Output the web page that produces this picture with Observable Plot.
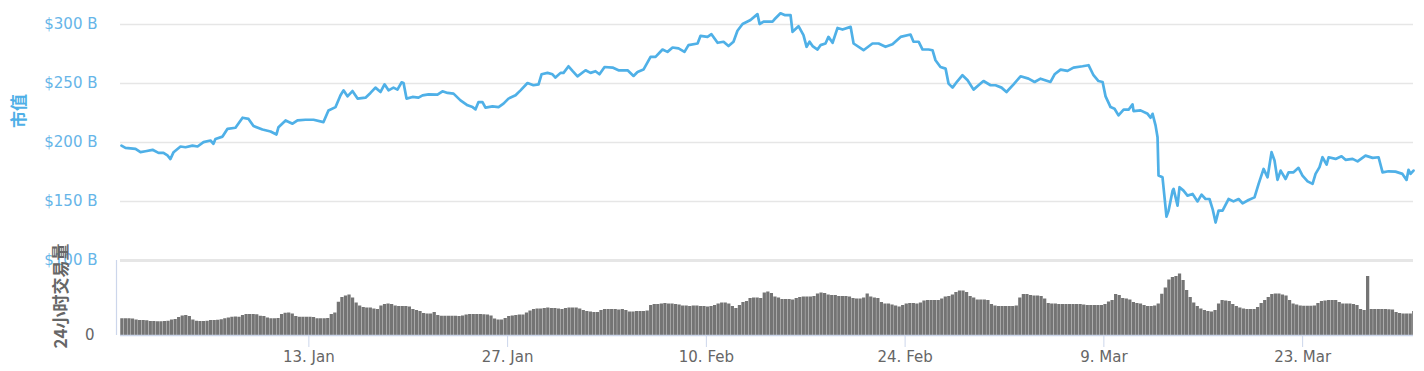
<!DOCTYPE html>
<html><head><meta charset="utf-8">
<script src="https://cdn.jsdelivr.net/npm/d3@7"></script>
<script src="https://cdn.jsdelivr.net/npm/@observablehq/plot@0.6"></script>
<style>
body{margin:0;background:#fff;}
#chart{position:relative;width:1424px;height:371px;overflow:hidden;font-family:"DejaVu Sans",sans-serif;}
.ytitle{position:absolute;font-family:"Noto Sans CJK SC",sans-serif;font-weight:bold;font-size:17px;white-space:nowrap;transform:translate(-50%,-50%) rotate(-90deg);line-height:1;}
</style></head>
<body><div id="chart"></div>
<script>
// Market cap (billions USD), time in days since 2020-01-01 00:00 UTC
const capDays = [-1.20,-0.92,-0.21,0.14,0.49,0.99,1.41,1.76,2.04,2.25,
2.47,2.96,3.31,3.80,4.16,4.58,5.07,5.28,5.42,5.92,
6.27,6.83,7.33,7.75,8.10,8.73,9.30,9.72,9.86,10.36,
10.85,11.20,11.76,12.33,13.03,13.38,13.88,14.23,14.44,14.72,
15.07,15.43,15.99,16.34,16.69,17.05,17.33,17.61,17.96,18.24,
18.53,18.67,18.88,19.30,19.72,20.01,20.43,21.06,21.41,21.77,
22.19,22.68,23.18,23.53,23.74,23.95,24.23,24.44,24.94,25.36,
25.71,26.06,26.56,26.91,27.40,27.82,28.18,28.39,28.81,29.16,
29.37,29.73,29.94,30.29,30.57,30.92,31.49,31.84,32.19,32.47,
32.83,33.39,33.81,34.45,34.87,35.15,35.57,36.07,36.42,36.91,
37.26,37.62,38.04,38.46,38.74,39.38,39.59,40.08,40.36,40.79,
41.21,41.56,41.91,42.19,42.55,43.11,43.60,43.75,44.03,44.66,
44.80,45.22,45.51,45.93,46.07,46.49,46.84,47.06,47.27,47.48,
47.83,48.04,48.39,48.60,48.89,49.24,49.59,50.16,50.37,51.07,
51.70,52.13,52.62,53.11,53.68,54.38,54.59,54.95,55.23,55.65,
55.93,56.14,56.49,56.85,57.06,57.34,57.69,58.04,58.40,58.82,
59.17,59.52,60.02,60.37,60.79,61.14,61.64,62.13,62.69,63.12,
63.54,64.24,64.53,64.95,65.44,65.86,66.50,66.92,67.27,67.62,
67.91,68.12,68.47,68.75,69.03,69.39,69.74,70.02,70.09,70.58,
71.08,71.29,71.43,71.64,71.78,71.85,72.13,72.41,72.56,72.84,
72.91,73.19,73.33,73.61,73.89,74.25,74.60,74.88,75.16,75.44,
75.66,75.87,76.08,76.36,76.78,77.13,77.49,77.77,78.19,78.61,
78.90,79.25,79.53,79.81,80.02,80.23,80.45,80.80,81.01,81.36,
81.71,81.99,82.35,82.70,82.91,83.19,83.40,83.69,83.83,84.32,
84.74,85.02,85.52,85.87,86.43,86.93,87.35,87.63,88.05,88.54,
89.03,89.32,89.46,89.60,89.81];
const capValues = [197.4,195.5,194.6,191.8,192.6,193.8,191.2,191.2,189,186,
191.8,196.6,196,197.4,196.6,200.3,201.7,198.9,203,205,
211.6,212.5,221,220,213.9,211,209.3,206.8,213,218.7,
215.9,218.7,219.3,219.3,217.3,227.2,230,240,244.2,239.1,
243.6,237.2,238,242,246.5,242.8,249.3,244.2,246.5,244.8,
251,250.4,237.2,238.6,238,240,240.8,240.6,243.4,242,
241.4,235.7,231.5,230,228.1,234.3,234.3,229.5,230.6,230,
232.9,237.2,240,244.2,250.4,248.5,249.3,257.8,259,257.8,
255,259,259,264.6,260.7,256.1,261.2,259,260.4,257.8,
264,263.5,261.2,261.2,256.4,259.8,261.8,272.5,272.5,278.8,
276.8,280.5,279.7,276.8,282.5,283.9,290.4,289.5,291.8,284.5,
285.4,281.7,285.4,294.7,300.4,303.8,308.8,300.4,302.4,302.4,
304.4,309.5,308,308,293.8,298.6,291,281.1,285.4,281.7,
278.8,282.5,283.9,289.5,284.5,297.1,295.7,298,283.9,278.2,
283.9,283.9,281.1,283.3,289.5,291.5,285.4,285.4,278.8,278.8,
278.2,269.7,264,262.6,249.9,246.5,252.1,257,252.7,244.8,
248.5,252.1,248.5,248.5,246.5,242.8,249.3,256.1,254.1,251.3,
254.1,251.3,257.8,261.8,260.7,263.5,264.6,265.5,257,252.1,
251.3,239.1,230,228.6,223,227.8,227.8,232.3,226.6,227.2,
224.3,221,224.3,214.5,204.5,172,170.5,137.2,142.3,159.2,
160.7,146.5,162.1,159.2,155,156.4,150.1,155.8,152.1,152.1,
143.6,132.2,142.3,142.3,152.1,150.1,152.1,148.4,151.3,153.5,
164.9,177.6,170.5,191.8,184.7,168.3,176.2,169.1,174.7,174.7,
178.5,172,167.1,164.9,173.4,179.1,187.5,181.3,187.5,186.1,
188.3,185.3,186.1,184,188.9,187,187.5,174.7,175.6,175.3,
173.4,168.3,176.8,173.4,176.2];

// 24h volume (billions USD), one value per 6-hour slot starting 2019-12-30 18:00 UTC
const volStart = "2019-12-30T18:00:00Z";
const volStepHours = 6;
const volValues = [67,67,67,66,62,60,60,59,56,56,
55,55,56,57,62,64,72,78,80,76,
62,57,56,56,57,60,60,61,63,67,
70,73,74,73,80,84,84,84,83,77,
76,70,67,67,68,84,89,90,86,76,
73,73,73,73,72,67,67,67,68,84,
90,133,152,158,162,150,130,118,112,110,
110,106,104,118,124,126,124,118,116,116,
116,114,104,100,96,88,86,86,92,80,
77,77,77,77,77,76,78,82,84,84,
84,84,83,82,78,66,62,62,68,76,
78,80,82,82,90,98,104,106,106,108,
110,108,108,106,104,108,110,110,110,106,
100,96,94,92,92,100,104,104,104,104,
102,104,100,94,94,96,96,96,98,120,
124,124,126,128,126,126,124,122,118,118,
116,118,118,116,116,114,116,120,126,130,
130,126,116,108,120,132,136,148,150,150,
148,170,174,168,154,150,144,144,144,142,
148,152,154,154,154,156,166,170,168,162,
160,160,156,156,156,154,148,146,146,150,
166,154,150,148,132,126,126,122,118,114,
120,126,128,128,126,130,138,140,140,140,
140,146,154,156,162,172,178,178,172,156,
150,142,142,142,140,124,118,116,116,116,
116,116,118,150,164,164,160,158,158,156,
146,128,126,126,124,124,124,124,124,124,
124,122,120,120,120,120,120,124,134,140,
164,160,148,146,142,132,128,126,120,116,
116,118,126,165,190,222,232,236,246,220,
180,152,130,116,106,100,96,94,100,126,
140,138,136,124,116,110,106,104,104,104,
112,128,140,152,164,166,166,162,158,140,
126,122,118,117,117,117,118,128,136,138,
140,140,140,132,126,126,126,124,120,104,
100,236,104,104,104,104,104,103,102,92,
88,86,86,86,96];

const capTicks = [100, 150, 200, 250, 300];
const volTicks = [0];
const xTickDates = ["2020-01-13","2020-01-27","2020-02-10","2020-02-24","2020-03-09","2020-03-23"];
const xTickLabels = ["13. Jan","27. Jan","10. Feb","24. Feb","9. Mar","23. Mar"];
const rangeStart = "2019-12-30T17:34:00Z";
const rangeEnd = "2020-03-30T19:26:00Z";
const capTitle = "市值";
const volTitle = "24小时交易量";

const T0 = Date.UTC(2020, 0, 1);
const DAY = 864e5;
const xDomain = [new Date(rangeStart), new Date(rangeEnd)];
const capData = capDays.map((d, i) => ({t: new Date(T0 + d * DAY), v: capValues[i]}));
const vs = new Date(volStart).getTime();
const step = volStepHours * 3600e3;
const volData = volValues.map((v, i) => ({t0: new Date(vs + i * step), t1: new Date(vs + (i + 1) * step), v}));
const tickDates = xTickDates.map(s => new Date(s + "T00:00:00Z"));
const labelOf = new Map(tickDates.map((d, i) => [+d, xTickLabels[i]]));

const lineColor = "#4fb0e7";
const capLabelColor = "#66b5e8";
const chart = document.getElementById("chart");

const topPlot = Plot.plot({
  width: 1424, height: 275,
  marginLeft: 120, marginRight: 11, marginTop: 24, marginBottom: 15,
  style: {background: "transparent", overflow: "visible", position: "absolute", left: "0px", top: "0px",
          fontFamily: "'DejaVu Sans', sans-serif", fontSize: "15px", color: capLabelColor},
  x: {type: "utc", domain: xDomain, axis: null},
  y: {domain: [100, 300], ticks: capTicks, tickFormat: d => `$${d} B`, tickSize: 0, tickPadding: 23, label: null},
  marks: [
    Plot.ruleY(capTicks.filter(d => d !== 100), {stroke: "#e6e6e6", strokeWidth: 1.4}),
    Plot.ruleY([100], {stroke: "#e6e6e6", strokeWidth: 3}),
    Plot.line(capData, {x: "t", y: "v", stroke: lineColor, strokeWidth: 2.7, strokeLinejoin: "round"})
  ]
});
chart.appendChild(topPlot);

const botPlot = Plot.plot({
  width: 1424, height: 116,
  marginLeft: 120, marginRight: 11, marginTop: 5, marginBottom: 36,
  style: {background: "transparent", overflow: "visible", position: "absolute", left: "0px", top: "255px",
          fontFamily: "'DejaVu Sans', sans-serif", fontSize: "15px", color: "#666666"},
  x: {type: "utc", domain: xDomain},
  y: {domain: [0, 300], ticks: volTicks, tickFormat: d => String(d), tickSize: 0, tickPadding: 26, label: null},
  marks: [
    Plot.rectY(volData, {x1: "t0", x2: "t1", y: "v", fill: "#747474", insetRight: 0.3, clip: true}),
    Plot.ruleY([0], {stroke: "#ccd6eb", strokeWidth: 1.5}),
    Plot.ruleX([xDomain[0]], {dx: -4, stroke: "#ccd6eb", strokeWidth: 1.2}),
    Plot.axisX(tickDates, {tickSize: 12, tickPadding: 4, stroke: "#ccd6eb", fill: "#666666",
      tickFormat: d => labelOf.get(+d), fontSize: 15, label: null})
  ]
});
chart.appendChild(botPlot);

function addTitle(text, cx, cy, color) {
  const el = document.createElement("div");
  el.className = "ytitle";
  el.textContent = text;
  el.style.left = cx + "px";
  el.style.top = cy + "px";
  el.style.color = color;
  chart.appendChild(el);
}
addTitle(capTitle, 17, 111, lineColor);
addTitle(volTitle, 59, 296, "#666666");
</script></body></html>
